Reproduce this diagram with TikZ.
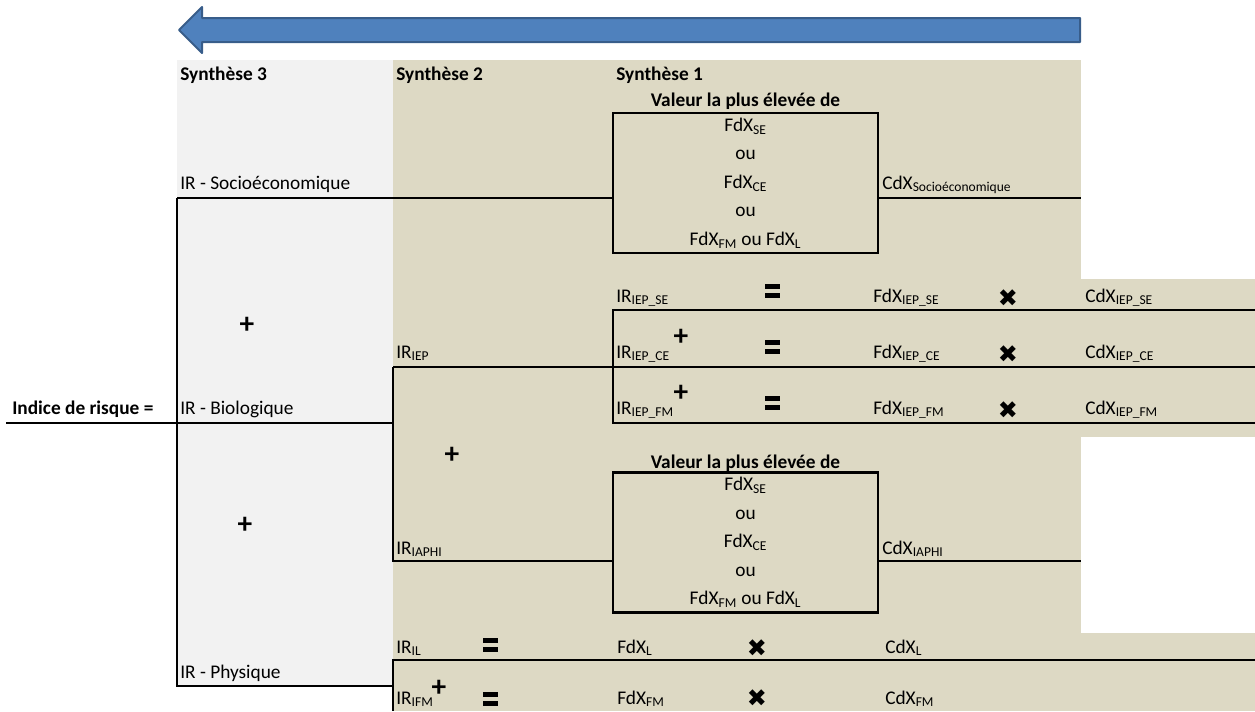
\documentclass[tikz,border=0pt]{standalone}
\usepackage{fontspec}
\setmainfont{Carlito}
\newfontfamily\symfont{DejaVu Sans}
\usetikzlibrary{positioning}

\definecolor{tanfill}{HTML}{DDD9C4}
\definecolor{grayfill}{HTML}{F2F2F2}
\definecolor{arrowfill}{HTML}{4F81BD}
\definecolor{arrowline}{HTML}{385D8A}

\newcommand{\basesize}{\fontsize{14.5}{17.4}\selectfont}
\newcommand{\sub}[1]{\textsubscript{#1}}

\tikzset{
  lbl/.style={anchor=base west, inner sep=0pt},
  head/.style={lbl, font=\basesize\bfseries},
  title/.style={anchor=base, inner sep=0pt, font=\basesize\bfseries},
  valbox/.style={draw, line width=1.8pt, minimum width=198.75pt, minimum height=105pt,
    align=center, inner sep=0pt, font=\fontsize{14.5}{21.4}\selectfont},
  plus/.style={inner sep=0pt, font=\fontsize{22}{22}\selectfont\bfseries},
  times/.style={inner sep=0pt, font=\symfont\fontsize{18}{18}\selectfont},
  wire/.style={line width=1.5pt},
  eqbar/.pic={
    \fill (-7.5,-7) rectangle (7.5,-2);
    \fill (-7.5,2) rectangle (7.5,7);
  },
}

\begin{document}
\begin{tikzpicture}[x=0.75pt, y=-0.75pt, font=\basesize]
  \useasboundingbox (0,0) rectangle (1255,711);

  % Backgrounds
  \fill[grayfill] (177,60) rectangle (393,686);
  \fill[tanfill] (393,60) rectangle (1081,711);
  \fill[tanfill] (1081,279) rectangle (1255,437);
  \fill[tanfill] (1081,633) rectangle (1255,711);

  % Direction arrow
  \draw[fill=arrowfill, draw=arrowline, line width=1.5pt, line join=round]
    (179,30) -- (202,7) -- (202,18) -- (1080,18) -- (1080,42) -- (202,42) -- (202,53) -- cycle;

  % Column headers
  \node[head] (s3) at (180,80) {Synthèse 3};
  \node[head] (s2) at (396,80) {Synthèse 2};
  \node[head] (s1) at (616,80) {Synthèse 1};

  % Synthese 3
  \node[head] (indice) at (12,414) {Indice de risque =};
  \node[lbl] (socio) at (180,189) {IR - Socioéconomique};
  \node[lbl] (bio) at (180,414) {IR - Biologique};
  \node[lbl] (phys) at (180,678) {IR - Physique};
  \node[plus] (p1) at (247,325) {+};
  \node[plus] (p2) at (245,525) {+};

  % Synthese 2
  \node[lbl] (iep) at (396,358) {IR\sub{IEP}};
  \node[lbl] (iaphi) at (396,554) {IR\sub{IAPHI}};
  \node[lbl] (il) at (396,653) {IR\sub{IL}};
  \node[lbl] (ifm) at (396,704) {IR\sub{IFM}};
  \node[plus] (p3) at (452,455) {+};
  \node[plus] (p4) at (439,688) {+};

  % Highest value boxes
  \node[title] (t1) at (745.5,106) {Valeur la plus élevée de};
  \node[valbox] (box1) at (745.5,183) {FdX\sub{SE}\\ou\\FdX\sub{CE}\\ou\\FdX\sub{FM} ou FdX\sub{L}};
  \node[lbl] (cdxsocio) at (882,189) {CdX\sub{Socioéconomique}};
  \node[title] (t2) at (745.5,468) {Valeur la plus élevée de};
  \node[valbox] (box2) at (745.5,542.5) {FdX\sub{SE}\\ou\\FdX\sub{CE}\\ou\\FdX\sub{FM} ou FdX\sub{L}};
  \node[lbl] (cdxiaphi) at (882,554) {CdX\sub{IAPHI}};

  % IEP rows
  \node[lbl] (iepse) at (616,302) {IR\sub{IEP\_SE}};
  \node[lbl] (iepce) at (616,358) {IR\sub{IEP\_CE}};
  \node[lbl] (iepfm) at (616,414) {IR\sub{IEP\_FM}};
  \node[plus] (p5) at (681,337) {+};
  \node[plus] (p6) at (681,393) {+};
  \pic (eq1) at (772,291) {eqbar};
  \pic (eq2) at (772,347) {eqbar};
  \pic (eq3) at (772,403) {eqbar};
  \node[lbl] (fdxse) at (873,302) {FdX\sub{IEP\_SE}};
  \node[lbl] (fdxce) at (873,358) {FdX\sub{IEP\_CE}};
  \node[lbl] (fdxfm) at (873,414) {FdX\sub{IEP\_FM}};
  \node[times] (x1) at (1008,298) {✖};
  \node[times] (x2) at (1008,354) {✖};
  \node[times] (x3) at (1008,410) {✖};
  \node[lbl] (cdxse) at (1085,302) {CdX\sub{IEP\_SE}};
  \node[lbl] (cdxce) at (1085,358) {CdX\sub{IEP\_CE}};
  \node[lbl] (cdxfm) at (1085,414) {CdX\sub{IEP\_FM}};

  % Physique rows
  \pic (eq4) at (490,645) {eqbar};
  \pic (eq5) at (490,699) {eqbar};
  \node[lbl] (fdxl) at (617,653) {FdX\sub{L}};
  \node[lbl] (fdxifm) at (617,704) {FdX\sub{FM}};
  \node[times] (x4) at (757,648) {✖};
  \node[times] (x5) at (757,698) {✖};
  \node[lbl] (cdxl) at (885,653) {CdX\sub{L}};
  \node[lbl] (cdxifm) at (885,704) {CdX\sub{FM}};

  % Junction points
  \coordinate (start) at (6,423);
  \coordinate (top3) at (177,198);
  \coordinate (bot3) at (177,686);
  \coordinate (bot3r) at (393,686);
  \coordinate (out1) at (1081,198);
  \coordinate (top2) at (393,367);
  \coordinate (mid2) at (393,423);
  \coordinate (bot2) at (393,561);
  \coordinate (out2) at (1081,561);
  \coordinate (iepa) at (613,310);
  \coordinate (iepb) at (613,423);
  \coordinate (enda) at (1255,310);
  \coordinate (endb) at (1255,367);
  \coordinate (endc) at (1255,423);
  \coordinate (physa) at (393,660);
  \coordinate (physb) at (393,711);
  \coordinate (endd) at (1255,660);

  % Draw edges
  \draw[wire] (start) -- (mid2);
  \draw[wire] (top3) -- (bot3) -- (bot3r);
  \draw[wire] (top3) -- (box1.west |- top3);
  \draw[wire] (box1.east |- out1) -- (out1);
  \draw[wire] (top2) -- (bot2) -- (box2.west |- bot2);
  \draw[wire] (box2.east |- out2) -- (out2);
  \draw[wire] (top2) -- (endb);
  \draw[wire] (enda) -- (iepa) -- (iepb) -- (endc);
  \draw[wire] (endd) -- (physa) -- (physb);
\end{tikzpicture}
\end{document}
